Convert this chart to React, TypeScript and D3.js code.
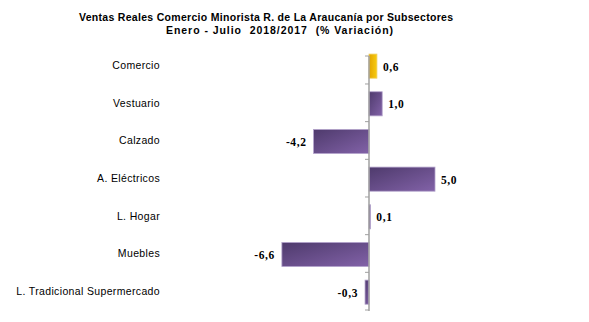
import React from "react";
import * as d3 from "d3";

const categories = [
  "Comercio",
  "Vestuario",
  "Calzado",
  "A. Eléctricos",
  "L. Hogar",
  "Muebles",
  "L. Tradicional Supermercado",
];
const values = [0.6, 1.0, -4.2, 5.0, 0.1, -6.6, -0.3];
const valueLabels = ["0,6", "1,0", "-4,2", "5,0", "0,1", "-6,6", "-0,3"];
const titleLines = [
  "Ventas Reales Comercio Minorista R. de La Araucanía por Subsectores",
  "Enero - Julio  2018/2017  (% Variación)",
];

export default function App() {
  const W = 589;
  const H = 322;
  const x = d3.scaleLinear().domain([-8, 8]).range([369 - 105.6, 369 + 105.6]);
  const y = d3
    .scaleBand<string>()
    .domain(categories)
    .range([46.3, 310])
    .paddingInner(0.36)
    .paddingOuter(0.18);
  const outer = d3.scaleBand<string>().domain(categories).range([46.3, 310]);
  const x0 = x(0);
  const sans = "'Liberation Sans', Arial, sans-serif";
  const serif = "'Liberation Serif', 'Times New Roman', serif";
  const titlePos = [
    { x: 79, y: 21, len: 374 },
    { x: 166, y: 34, len: 227 },
  ];

  return (
    <svg
      width={W}
      height={H}
      style={{ position: "absolute", left: 0, top: 0, background: "#fff" }}
    >
      <defs>
        <linearGradient id="purp" x1="0" y1="0" x2="1" y2="1">
          <stop offset="0%" stopColor="#4e3a6c" />
          <stop offset="100%" stopColor="#8262a8" />
        </linearGradient>
        <linearGradient id="gold" x1="0" y1="0" x2="1" y2="0">
          <stop offset="0%" stopColor="#e2a400" />
          <stop offset="100%" stopColor="#f8cc10" />
        </linearGradient>
      </defs>
      {titleLines.map((t, i) => (
        <text
          key={i}
          x={titlePos[i].x}
          y={titlePos[i].y}
          textAnchor="start"
          textLength={titlePos[i].len}
          lengthAdjust="spacing"
          fontFamily={sans}
          fontWeight="bold"
          fontSize={10.5}
          fill="#000"
          style={{ whiteSpace: "pre" }}
        >
          {t}
        </text>
      ))}
      {categories.map((c, i) => {
        const v = values[i];
        const bx = Math.min(x(v), x0);
        const bw = Math.abs(x(v) - x0);
        const by = (y(c) as number) + 1;
        const bh = y.bandwidth();
        const cy = (outer(c) as number) + outer.bandwidth() / 2;
        return (
          <g key={c}>
            <rect
              x={bx}
              y={by}
              width={Math.max(bw, 1.5)}
              height={bh}
              fill={i === 0 ? "url(#gold)" : "url(#purp)"}
              stroke={i === 0 ? "#f0d060" : "#b4a4cc"}
              strokeWidth={0.8}
            />
            <text
              x={160}
              y={cy}
              textAnchor="end"
              dominantBaseline="central"
              fontFamily={sans}
              fontSize={10.5}
              letterSpacing={0.35}
              fill="#000"
            >
              {c}
            </text>
            <text
              x={v >= 0 ? x(v) + 6 : x(v) - 7}
              y={by + bh / 2 + 0.5}
              textAnchor={v >= 0 ? "start" : "end"}
              dominantBaseline="central"
              fontFamily={serif}
              fontWeight="bold"
              fontSize={11.5}
              letterSpacing={0.6}
              fill="#000"
            >
              {valueLabels[i]}
            </text>
          </g>
        );
      })}
      <line x1={x0} x2={x0} y1={56} y2={311} stroke="#a0a0a0" strokeWidth={1.5} />
      <line x1={x0 - 4} x2={x0} y1={56} y2={56} stroke="#a0a0a0" strokeWidth={1} />
      {categories.map((c) => {
        const ty = (outer(c) as number) + outer.bandwidth();
        return (
          <line
            key={"t" + c}
            x1={x0 - 4}
            x2={x0}
            y1={ty}
            y2={ty}
            stroke="#a0a0a0"
            strokeWidth={1}
          />
        );
      })}
    </svg>
  );
}
